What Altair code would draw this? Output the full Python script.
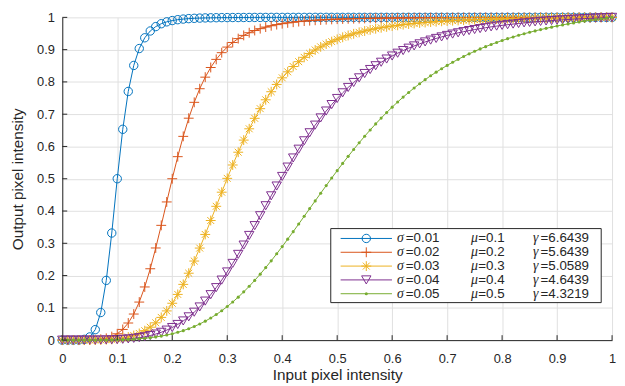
import altair as alt
import pandas as pd

# ---------------- data ----------------
x_values = [i / 100 for i in range(101)]

blue_y = [
    0, 0, 0, 0.0003, 0.0023, 0.0099, 0.0325, 0.0855, 0.1850, 0.3318,
    0.5, 0.6532, 0.7705, 0.8510, 0.9034, 0.9367, 0.9578, 0.9714, 0.9803, 0.9861,
    0.9901, 0.9928, 0.9947, 0.9961, 0.9970, 0.9977, 0.9983, 0.9986, 0.9989, 0.9992,
    0.9993, 0.9995, 0.9995, 0.9996, 0.9997, 0.9998, 0.9998, 0.9998, 0.9999, 0.9999,
    0.9999, 0.9999, 0.9999, 0.9999, 0.9999, 0.9999, 1, 1, 1, 1,
    1, 1, 1, 1, 1, 1, 1, 1, 1, 1,
    1, 1, 1, 1, 1, 1, 1, 1, 1, 1,
    1, 1, 1, 1, 1, 1, 1, 1, 1, 1,
    1, 1, 1, 1, 1, 1, 1, 1, 1, 1,
    1, 1, 1, 1, 1, 1, 1, 1, 1, 1,
    1,
]

red_y = [
    0, 0, 0, 0, 0.0001, 0.0004, 0.0011, 0.0027, 0.0056, 0.0109,
    0.0196, 0.0331, 0.0530, 0.0808, 0.1179, 0.1647, 0.2211, 0.2855, 0.3556, 0.4281,
    0.5, 0.5684, 0.6313, 0.6876, 0.7367, 0.7789, 0.8147, 0.8447, 0.8698, 0.8906,
    0.9079, 0.9222, 0.9342, 0.9441, 0.9524, 0.9592, 0.9650, 0.9699, 0.9740, 0.9775,
    0.9804, 0.9829, 0.9850, 0.9869, 0.9885, 0.9898, 0.9910, 0.9920, 0.9929, 0.9937,
    0.9944, 0.9950, 0.9955, 0.9959, 0.9963, 0.9967, 0.9970, 0.9973, 0.9975, 0.9978,
    0.9980, 0.9982, 0.9983, 0.9985, 0.9986, 0.9987, 0.9988, 0.9989, 0.9990, 0.9991,
    0.9992, 0.9992, 0.9993, 0.9993, 0.9994, 0.9994, 0.9995, 0.9995, 0.9995, 0.9996,
    0.9996, 0.9996, 0.9997, 0.9997, 0.9997, 0.9997, 0.9998, 0.9998, 0.9998, 0.9998,
    0.9998, 0.9998, 0.9999, 0.9999, 0.9999, 0.9999, 0.9999, 0.9999, 0.9999, 0.9999,
    1.0,
]

orange_y = [
    0, 0, 0, 0, 0, 0.0001, 0.0003, 0.0006, 0.0012, 0.0023,
    0.0038, 0.0062, 0.0096, 0.0143, 0.0207, 0.0292, 0.0400, 0.0536, 0.0704, 0.0905,
    0.1142, 0.1416, 0.1727, 0.2073, 0.2450, 0.2852, 0.3274, 0.3706, 0.4146, 0.4583,
    0.5012, 0.5426, 0.5822, 0.6197, 0.6547, 0.6872, 0.7171, 0.7446, 0.7696, 0.7922,
    0.8127, 0.8312, 0.8477, 0.8627, 0.8761, 0.8881, 0.8989, 0.9086, 0.9172, 0.9249,
    0.9319, 0.9383, 0.9439, 0.9490, 0.9536, 0.9577, 0.9614, 0.9648, 0.9678, 0.9705,
    0.9731, 0.9753, 0.9774, 0.9793, 0.9811, 0.9827, 0.9841, 0.9854, 0.9866, 0.9877,
    0.9887, 0.9897, 0.9905, 0.9913, 0.9920, 0.9927, 0.9933, 0.9939, 0.9944, 0.9949,
    0.9953, 0.9958, 0.9962, 0.9965, 0.9969, 0.9972, 0.9975, 0.9977, 0.9980, 0.9982,
    0.9985, 0.9987, 0.9988, 0.9990, 0.9991, 0.9993, 0.9995, 0.9997, 0.9998, 0.9999,
    1.0,
]

purple_y = [
    0, 0, 0, 0, 0, 0.0001, 0.0001, 0.0003, 0.0006, 0.0010,
    0.0016, 0.0025, 0.0038, 0.0055, 0.0077, 0.0105, 0.0142, 0.0188, 0.0242, 0.0310,
    0.0390, 0.0485, 0.0594, 0.0721, 0.0865, 0.1027, 0.1209, 0.1408, 0.1626, 0.1860,
    0.2112, 0.2377, 0.2656, 0.2945, 0.3243, 0.3547, 0.3854, 0.4163, 0.4470, 0.4774,
    0.5071, 0.5361, 0.5643, 0.5915, 0.6175, 0.6424, 0.6661, 0.6885, 0.7098, 0.7298,
    0.7486, 0.7662, 0.7828, 0.7982, 0.8126, 0.8260, 0.8384, 0.8501, 0.8609, 0.8709,
    0.8803, 0.8889, 0.8971, 0.9045, 0.9115, 0.9180, 0.9239, 0.9295, 0.9347, 0.9395,
    0.9440, 0.9482, 0.9521, 0.9557, 0.9591, 0.9623, 0.9652, 0.9680, 0.9706, 0.9729,
    0.9752, 0.9773, 0.9792, 0.9811, 0.9829, 0.9845, 0.9860, 0.9874, 0.9888, 0.9901,
    0.9913, 0.9924, 0.9934, 0.9944, 0.9953, 0.9962, 0.9970, 0.9978, 0.9986, 0.9993,
    1.0,
]

green_y = [
    0, 0, 0, 0, 0, 0, 0.0001, 0.0002, 0.0004, 0.0006,
    0.0010, 0.0015, 0.0022, 0.0031, 0.0043, 0.0058, 0.0076, 0.0099, 0.0125, 0.0158,
    0.0196, 0.0242, 0.0294, 0.0354, 0.0422, 0.0500, 0.0587, 0.0685, 0.0792, 0.0910,
    0.1041, 0.1181, 0.1332, 0.1495, 0.1668, 0.1851, 0.2044, 0.2247, 0.2457, 0.2674,
    0.2898, 0.3128, 0.3361, 0.3597, 0.3836, 0.4075, 0.4314, 0.4552, 0.4788, 0.5021,
    0.5250, 0.5475, 0.5694, 0.5907, 0.6115, 0.6316, 0.6510, 0.6698, 0.6879, 0.7052,
    0.7218, 0.7377, 0.7529, 0.7673, 0.7812, 0.7943, 0.8069, 0.8189, 0.8302, 0.8409,
    0.8511, 0.8609, 0.8700, 0.8789, 0.8870, 0.8948, 0.9023, 0.9093, 0.9160, 0.9223,
    0.9282, 0.9340, 0.9392, 0.9444, 0.9492, 0.9537, 0.9581, 0.9621, 0.9660, 0.9697,
    0.9734, 0.9766, 0.9798, 0.9828, 0.9856, 0.9884, 0.9909, 0.9934, 0.9956, 0.9979,
    1.0,
]

series_names = ["s1", "s2", "s3", "s4", "s5"]
series_values = [blue_y, red_y, orange_y, purple_y, green_y]
sigma_labels = ["=0.01", "=0.02", "=0.03", "=0.04", "=0.05"]
mu_labels = ["=0.1", "=0.2", "=0.3", "=0.4", "=0.5"]
gamma_labels = ["=6.6439", "=5.6439", "=5.0589", "=4.6439", "=4.3219"]
tick_values = [0, 0.1, 0.2, 0.3, 0.4, 0.5, 0.6, 0.7, 0.8, 0.9, 1.0]

# ---------------- styles ----------------
colors = ["#0072BD", "#D95319", "#EDB120", "#7E2F8E", "#77AC30"]
PLUS = "M-1,0L1,0M0,-1L0,1"
STAR = "M-1,0L1,0M0,-1L0,1M-0.7,-0.7L0.7,0.7M-0.7,0.7L0.7,-0.7"
marker_styles = [
    dict(shape="circle", size=72, filled=False),
    dict(shape=PLUS, size=100, filled=False),
    dict(shape=STAR, size=100, filled=False),
    dict(shape="triangle-down", size=90, filled=False),
    dict(shape="circle", size=10, filled=True),
]
AX = "#262626"
W, H = 557, 327

rows = []
for name, ys in zip(series_names, series_values):
    for xv, yv in zip(x_values, ys):
        rows.append({"series": name, "x": xv, "y": yv})
df = pd.DataFrame(rows)

x_enc = alt.X(
    "x:Q",
    scale=alt.Scale(domain=[0, 1], nice=False, zero=False),
    axis=alt.Axis(
        values=tick_values, format=".1~f", title="Input pixel intensity",
        labelPadding=13, titleX=W / 2, titleY=40, titleBaseline="alphabetic",
    ),
)
y_enc = alt.Y(
    "y:Q",
    scale=alt.Scale(domain=[0, 1], nice=False, zero=False),
    axis=alt.Axis(
        values=tick_values, format=".1~f", title="Output pixel intensity",
        labelPadding=8, titleX=-40, titleY=H / 2, titleBaseline="alphabetic",
    ),
)

layers = []
for name, c, st in zip(series_names, colors, marker_styles):
    base = alt.Chart(df).transform_filter(alt.datum.series == name)
    layers.append(base.mark_line(color=c, strokeWidth=1).encode(x=x_enc, y=y_enc))
    layers.append(
        base.mark_point(
            shape=st["shape"], size=st["size"], filled=st["filled"],
            color=c, strokeWidth=1, opacity=1,
        ).encode(x=x_enc, y=y_enc)
    )

# inward tick marks (MATLAB style)
xt = alt.Chart(pd.DataFrame({"x": tick_values})).mark_rule(color=AX, strokeWidth=1).encode(
    x=x_enc, y=alt.value(H), y2=alt.value(H - 5)
)
yt = alt.Chart(pd.DataFrame({"y": tick_values})).mark_rule(color=AX, strokeWidth=1).encode(
    y=y_enc, x=alt.value(0), x2=alt.value(5)
)
layers += [xt, yt]

# legend box
one = alt.Data(values=[{"k": 0}])
layers.append(
    alt.Chart(one).mark_rect(fill="white", stroke=AX, strokeWidth=1).encode(
        x=alt.value(272), x2=alt.value(546), y=alt.value(214), y2=alt.value(289)
    )
)
greek = ["σ", "μ", "γ"]
for i, (c, st) in enumerate(zip(colors, marker_styles)):
    yp = 224 + 14 * i
    layers.append(
        alt.Chart(one).mark_rule(color=c, strokeWidth=1).encode(
            x=alt.value(282), x2=alt.value(334), y=alt.value(yp)
        )
    )
    layers.append(
        alt.Chart(one).mark_point(
            shape=st["shape"], size=st["size"], filled=st["filled"],
            color=c, strokeWidth=1, opacity=1,
        ).encode(x=alt.value(308), y=alt.value(yp))
    )
    texts = [sigma_labels[i], mu_labels[i], gamma_labels[i]]
    for g, gx, t, tx in zip(greek, [339, 414, 477], texts, [348, 421.5, 484.5]):
        layers.append(
            alt.Chart(one).mark_text(
                align="left", baseline="middle", font="Liberation Serif",
                fontStyle="italic", fontSize=14, color=AX,
            ).encode(x=alt.value(gx), y=alt.value(yp), text=alt.value(g))
        )
        layers.append(
            alt.Chart(one).mark_text(
                align="left", baseline="middle", font="Liberation Sans",
                fontSize=13.5, color=AX,
            ).encode(x=alt.value(tx), y=alt.value(yp), text=alt.value(t))
        )

chart = (
    alt.layer(*layers)
    .properties(
        width=W, height=H,
        padding={"left": 55, "top": 7, "right": 5, "bottom": 44},
        autosize=alt.AutoSizeParams(type="none"),
        background="white",
    )
    .configure_view(stroke=None)
    .configure_axis(
        grid=True, gridColor="#dfdfdf", gridWidth=1,
        domainColor=AX, domainWidth=1, ticks=False,
        labelColor=AX, titleColor=AX,
        labelFont="Liberation Sans", titleFont="Liberation Sans",
        labelFontSize=13, titleFontSize=15.5, titleFontWeight="normal",
        labelFlush=False, labelOverlap=False,
    )
)

chart.save("out.html", embed_options={"renderer": "svg", "actions": False})
